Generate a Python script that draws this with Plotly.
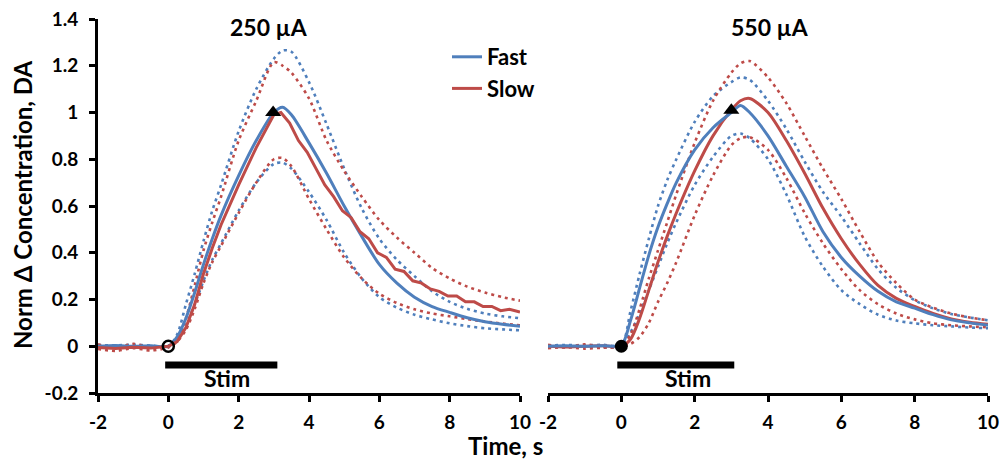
import plotly.graph_objects as go

# ---------------- data ----------------
t = [-2, -1.5, -1, -0.5, 0, 0.25, 0.5, 0.75, 1.0, 1.25, 1.5, 2.0, 2.5, 3.0, 3.25,
     3.5, 4.0, 4.5, 5.0, 5.5, 6.0, 6.5, 7.0, 7.5, 8.0, 8.5, 9.0, 9.5, 10]

# 250 uA panel
l_fast_mean = [0, 0.003, 0, 0.002, 0, 0.04, 0.12, 0.23, 0.35, 0.46, 0.56, 0.73, 0.88, 1.0, 1.022,
               0.99, 0.87, 0.74, 0.60, 0.47, 0.35, 0.27, 0.21, 0.17, 0.145, 0.122, 0.105, 0.094, 0.086]
l_fast_up = [0.005, 0.004, 0.006, 0.003, 0, 0.05, 0.18, 0.31, 0.45, 0.58, 0.69, 0.92, 1.10, 1.23, 1.265,
             1.26, 1.13, 0.95, 0.76, 0.59, 0.46, 0.37, 0.30, 0.235, 0.19, 0.16, 0.14, 0.128, 0.12]
l_fast_lo = [-0.004, -0.002, -0.005, -0.003, 0, 0.03, 0.09, 0.18, 0.28, 0.37, 0.44, 0.58, 0.70, 0.78, 0.785,
             0.76, 0.66, 0.54, 0.40, 0.29, 0.21, 0.165, 0.135, 0.115, 0.098, 0.086, 0.077, 0.072, 0.068]
l_slow_up = [0.008, -0.006, 0.01, -0.004, 0, 0.03, 0.12, 0.26, 0.41, 0.53, 0.64, 0.88, 1.05, 1.215, 1.20,
             1.17, 1.06, 0.88, 0.75, 0.64, 0.54, 0.465, 0.40, 0.335, 0.29, 0.255, 0.23, 0.21, 0.195]
l_slow_lo = [-0.012, -0.02, -0.008, -0.018, -0.005, 0.02, 0.07, 0.16, 0.27, 0.36, 0.43, 0.57, 0.70, 0.80, 0.805,
             0.77, 0.63, 0.50, 0.38, 0.29, 0.225, 0.185, 0.158, 0.14, 0.128, 0.116, 0.106, 0.097, 0.09]
# slow mean (250 uA) is noisier, read on a finer grid
t_ls = [-2, -1.5, -1, -0.5, 0, 0.25, 0.5, 0.75, 1.0, 1.25, 1.5, 2.0, 2.5, 3.0, 3.2, 3.45, 3.7, 3.95,
        4.2, 4.45, 4.7, 4.95, 5.2, 5.45, 5.7, 5.95, 6.2, 6.45, 6.7, 6.95, 7.2, 7.45, 7.7, 7.95,
        8.2, 8.45, 8.7, 8.95, 9.2, 9.45, 9.7, 10]
l_slow_mean = [-0.005, -0.01, -0.004, -0.008, 0, 0.02, 0.08, 0.18, 0.31, 0.42, 0.52, 0.69, 0.85, 0.99, 1.0,
               0.955, 0.88, 0.83, 0.76, 0.69, 0.64, 0.58, 0.55, 0.49, 0.46, 0.40, 0.38, 0.33, 0.32, 0.28,
               0.27, 0.245, 0.235, 0.215, 0.215, 0.19, 0.19, 0.17, 0.17, 0.152, 0.158, 0.146]

# 550 uA panel
r_fast_mean = [0, 0.002, 0, 0.002, 0.005, 0.11, 0.25, 0.39, 0.51, 0.61, 0.70, 0.84, 0.935, 1.0, 1.03,
               1.0, 0.90, 0.77, 0.64, 0.49, 0.38, 0.30, 0.235, 0.19, 0.163, 0.135, 0.113, 0.10, 0.09]
r_slow_mean = [0, -0.003, 0, 0.002, 0, 0.03, 0.12, 0.24, 0.36, 0.47, 0.57, 0.75, 0.90, 1.01, 1.05,
               1.06, 1.0, 0.88, 0.74, 0.59, 0.46, 0.35, 0.26, 0.205, 0.17, 0.14, 0.117, 0.103, 0.094]
r_fast_up = [0.004, 0.005, 0.004, 0.006, 0.005, 0.15, 0.31, 0.46, 0.60, 0.71, 0.80, 0.96, 1.07, 1.13, 1.15,
             1.14, 1.05, 0.93, 0.79, 0.66, 0.555, 0.44, 0.33, 0.25, 0.197, 0.162, 0.138, 0.123, 0.111]
r_fast_lo = [-0.003, -0.004, -0.002, -0.004, 0, 0.06, 0.14, 0.24, 0.34, 0.44, 0.53, 0.69, 0.81, 0.90, 0.91,
             0.89, 0.80, 0.65, 0.47, 0.34, 0.24, 0.18, 0.135, 0.11, 0.098, 0.09, 0.085, 0.08, 0.077]
r_slow_up = [0.006, -0.004, 0.008, -0.003, 0, 0.05, 0.16, 0.29, 0.41, 0.53, 0.65, 0.87, 1.05, 1.17, 1.21,
             1.22, 1.15, 1.04, 0.90, 0.76, 0.63, 0.49, 0.36, 0.27, 0.20, 0.165, 0.14, 0.123, 0.111]
r_slow_lo = [-0.008, -0.004, -0.01, -0.006, 0, 0.01, 0.04, 0.10, 0.19, 0.27, 0.36, 0.56, 0.73, 0.86, 0.89,
             0.895, 0.84, 0.72, 0.57, 0.44, 0.33, 0.24, 0.18, 0.14, 0.115, 0.098, 0.09, 0.085, 0.081]

stim_left_x = [-0.09, 3.1]
stim_right_x = [-0.11, 3.08]
stim_y = [-0.08, -0.08]
start_pt = [0, 0]           # (time, value) of the circle marker
peak_left = [2.98, 1.0]     # triangle marker, 250 uA
peak_right = [3.0, 1.01]    # triangle marker, 550 uA

tick_x = [-2, 0, 2, 4, 6, 8, 10]
tick_x_text = ["-2", "0", "2", "4", "6", "8", "10"]
tick_y = [-0.2, 0, 0.2, 0.4, 0.6, 0.8, 1.0, 1.2, 1.4]
tick_y_text = ["-0.2", "0", "0.2", "0.4", "0.6", "0.8", "1", "1.2", "1.4"]

BLUE = "#4F7FBC"
RED = "#BE4B48"
FONT = "Lato"
DOT = "3px,4px"

fig = go.Figure()


def line(x, y, color, dash, xa, ya, name=None, show=False, width=3):
    fig.add_trace(go.Scatter(
        x=x, y=y, mode="lines", name=name, showlegend=show,
        line=dict(color=color, width=width, dash=dash, shape="spline", smoothing=0.8),
        xaxis=xa, yaxis=ya, hoverinfo="skip"))


# left panel
line(t, l_fast_up, BLUE, DOT, "x", "y", width=2.6)
line(t, l_fast_lo, BLUE, DOT, "x", "y", width=2.6)
line(t, l_slow_up, RED, DOT, "x", "y", width=2.6)
line(t, l_slow_lo, RED, DOT, "x", "y", width=2.6)
line(t, l_fast_mean, BLUE, "solid", "x", "y", name="Fast", show=True)
fig.add_trace(go.Scatter(x=t_ls, y=l_slow_mean, mode="lines", name="Slow", showlegend=True,
                         line=dict(color=RED, width=3), xaxis="x", yaxis="y", hoverinfo="skip"))

# right panel
line(t, r_fast_up, BLUE, DOT, "x2", "y2", width=2.6)
line(t, r_fast_lo, BLUE, DOT, "x2", "y2", width=2.6)
line(t, r_slow_up, RED, DOT, "x2", "y2", width=2.6)
line(t, r_slow_lo, RED, DOT, "x2", "y2", width=2.6)
line(t, r_slow_mean, RED, "solid", "x2", "y2")
line(t, r_fast_mean, BLUE, "solid", "x2", "y2")

# stim bars
for xs, xa, ya in [(stim_left_x, "x", "y"), (stim_right_x, "x2", "y2")]:
    fig.add_trace(go.Scatter(x=xs, y=stim_y, mode="lines", showlegend=False,
                             line=dict(color="black", width=7), xaxis=xa, yaxis=ya, hoverinfo="skip"))

# markers
fig.add_trace(go.Scatter(x=[start_pt[0]], y=[start_pt[1]], mode="markers", showlegend=False,
                         marker=dict(symbol="circle-open", size=11, color="black", line=dict(width=2.5)),
                         xaxis="x", yaxis="y", hoverinfo="skip"))
fig.add_trace(go.Scatter(x=[start_pt[0]], y=[start_pt[1]], mode="markers", showlegend=False,
                         marker=dict(symbol="circle", size=13, color="black"),
                         xaxis="x2", yaxis="y2", hoverinfo="skip"))
fig.add_trace(go.Scatter(x=[peak_left[0]], y=[peak_left[1]], mode="markers", showlegend=False,
                         marker=dict(symbol="triangle-up", size=14, color="black"),
                         xaxis="x", yaxis="y", hoverinfo="skip"))
fig.add_trace(go.Scatter(x=[peak_right[0]], y=[peak_right[1]], mode="markers", showlegend=False,
                         marker=dict(symbol="triangle-up", size=14, color="black"),
                         xaxis="x2", yaxis="y2", hoverinfo="skip"))

W, H = 1003, 464
tickfont = dict(family=FONT, size=19, color="black", weight="bold")
axis_common = dict(showline=True, linewidth=3, linecolor="black", ticks="outside", ticklen=6,
                   tickwidth=3, tickcolor="black", showgrid=False, zeroline=False, tickfont=tickfont,
                   automargin=False)

ydom = [1 - 393 / H, 1 - 19 / H]
fig.update_layout(
    template="none",
    width=W, height=H, margin=dict(l=0, r=0, t=0, b=0, pad=0, autoexpand=False),
    paper_bgcolor="white", plot_bgcolor="white",
    xaxis=dict(domain=[98 / W, 520 / W], range=[-2, 10], tickvals=tick_x, ticktext=tick_x_text,
               anchor="y", ticklabelstandoff=4, **axis_common),
    xaxis2=dict(domain=[548 / W, 988 / W], range=[-2, 10], tickvals=tick_x, ticktext=tick_x_text,
                anchor="y2", ticklabelstandoff=4, **axis_common),
    yaxis=dict(domain=ydom, range=[-0.2, 1.4], tickvals=tick_y, ticktext=tick_y_text,
               anchor="x", ticklabelstandoff=7, **axis_common),
    yaxis2=dict(domain=ydom, range=[-0.2, 1.4], anchor="x2", visible=False, automargin=False),
    legend=dict(x=447 / W, y=1 - 36 / H, xanchor="left", yanchor="top",
                font=dict(family=FONT, size=22, color="black", weight="bold"),
                bgcolor="rgba(0,0,0,0)", tracegroupgap=0, itemwidth=30, borderwidth=0),
    showlegend=True,
)

annfont = dict(family=FONT, size=23, color="black", weight="bold")
axtitlefont = dict(family=FONT, size=24, color="black", weight="bold")
fig.add_annotation(text="250 µA", x=269 / W, y=1 - 27 / H, xref="paper", yref="paper",
                   showarrow=False, font=annfont, xanchor="center", yanchor="middle")
fig.add_annotation(text="550 µA", x=770 / W, y=1 - 27 / H, xref="paper", yref="paper",
                   showarrow=False, font=annfont, xanchor="center", yanchor="middle")
fig.add_annotation(text="Time, s", x=505 / W, y=2 / H, xref="paper", yref="paper",
                   showarrow=False, font=axtitlefont, xanchor="center", yanchor="bottom")
fig.add_annotation(text="Norm \u0394 Concentration, DA", x=22 / W, y=1 - 205 / H, xref="paper", yref="paper",
                   showarrow=False, font=axtitlefont, textangle=-90, xanchor="center", yanchor="middle")
fig.add_annotation(text="Stim", x=1.68, y=-0.135, xref="x", yref="y", showarrow=False,
                   font=annfont, xanchor="center", yanchor="middle")
fig.add_annotation(text="Stim", x=1.83, y=-0.135, xref="x2", yref="y2", showarrow=False,
                   font=annfont, xanchor="center", yanchor="middle")

fig.write_html("out.html")
